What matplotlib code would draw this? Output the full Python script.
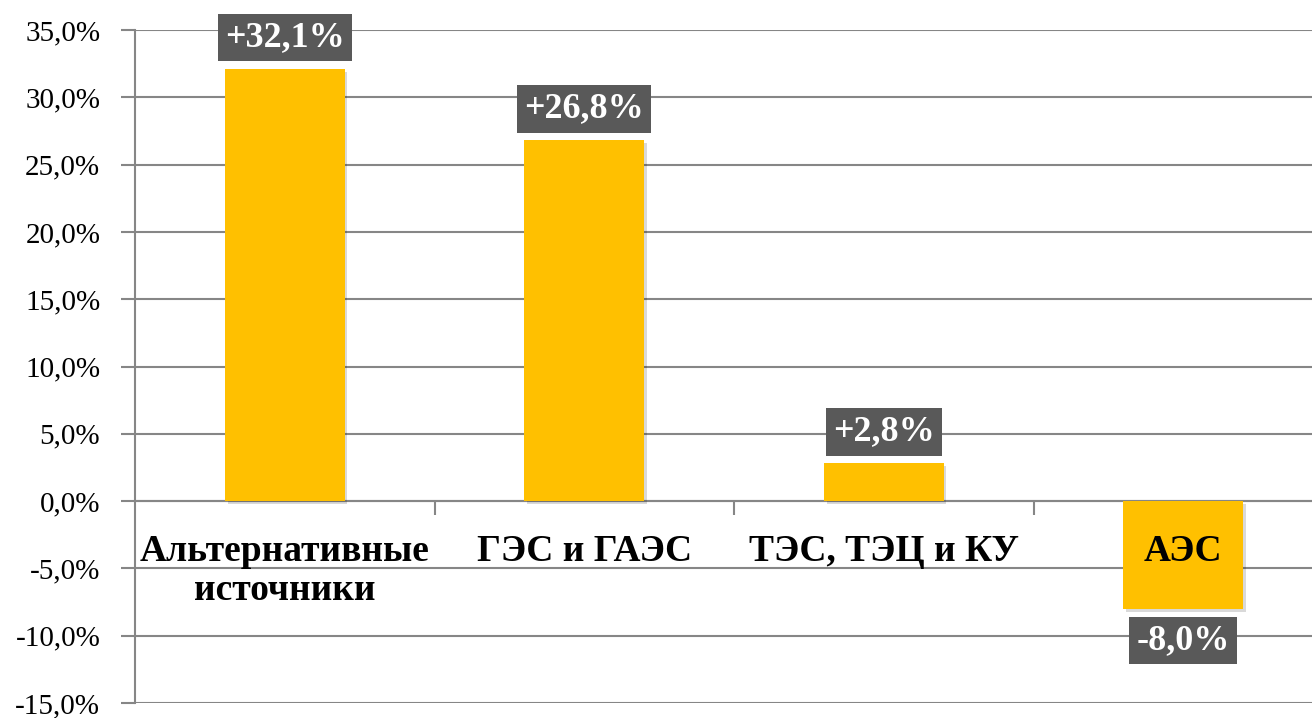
import os
import numpy as np
import matplotlib.pyplot as plt
import matplotlib.patheffects as pe
from matplotlib import font_manager as fm
from matplotlib.ticker import FuncFormatter

# data
categories = ["Альтернативные\nисточники", "ГЭС и ГАЭС", "ТЭС, ТЭЦ и КУ", "АЭС"]
values = [32.1, 26.8, 2.8, -8.0]
labels = ["+32,1%", "+26,8%", "+2,8%", "-8,0%"]

# Times-like fonts, loaded from file so nothing falls back to sans
fdir = '/usr/share/fonts/truetype/liberation/'
def serif(size, bold=False):
    path = fdir + ('LiberationSerif-Bold.ttf' if bold else 'LiberationSerif-Regular.ttf')
    if os.path.exists(path):
        return fm.FontProperties(fname=path, size=size)
    return fm.FontProperties(family='Liberation Serif', size=size,
                             weight='bold' if bold else 'normal')

fig = plt.figure(figsize=(13.12, 7.18), dpi=100)
ax = fig.add_axes([135/1312, 15/718, 1 - 135/1312, 673/718])

x = np.arange(len(categories))
bars = ax.bar(x, values, width=0.4, color='#FFC000', zorder=3)
for b in bars:
    b.set_path_effects([pe.SimplePatchShadow(offset=(2, -2), shadow_rgbFace='#000000', alpha=0.15),
                        pe.Normal()])

# value labels in dark boxes
for xi, v, t in zip(x, values, labels):
    off = 15 if v >= 0 else -15
    ax.annotate(t, (xi, v), xytext=(0, off), textcoords='offset pixels',
                ha='center', va='bottom' if v >= 0 else 'top',
                fontproperties=serif(26, True), color='white', zorder=5,
                bbox=dict(boxstyle='square,pad=0.2', fc='#595959', ec='none'))

# category names under the zero line (drawn over the negative bar)
for xi, c in zip(x, categories):
    ax.annotate(c, (xi, 0), xytext=(0, -33), textcoords='offset pixels',
                ha='center', va='top', fontproperties=serif(27, True),
                linespacing=1.15, zorder=6)

ax.set_ylim(-15, 35)
ax.set_xlim(-0.5, (1312 - 135) / 299.5 - 0.5)
ax.set_yticks(np.arange(-15, 36, 5))
ax.yaxis.set_major_formatter(FuncFormatter(lambda v, p: f"{v:.1f}%".replace('.', ',')))
ax.yaxis.grid(True, color='#868686', linewidth=1.5, zorder=0)
ax.tick_params(axis='y', length=10, width=1.5, color='#868686', pad=15)
for lbl in ax.get_yticklabels():
    lbl.set_fontproperties(serif(21))

for s in ['top', 'right']:
    ax.spines[s].set_visible(False)
ax.spines['left'].set_color('#868686')
ax.spines['left'].set_linewidth(1.5)
ax.spines['bottom'].set_position(('data', 0))
ax.spines['bottom'].set_color('#868686')
ax.spines['bottom'].set_linewidth(1.5)

ax.set_xticks(x)
ax.set_xticklabels([])
ax.tick_params(axis='x', length=0)
ax.set_xticks(x[:-1] + 0.5, minor=True)
ax.tick_params(axis='x', which='minor', length=10, width=1.5, color='#868686')

fig.savefig('out.png', dpi=100)
